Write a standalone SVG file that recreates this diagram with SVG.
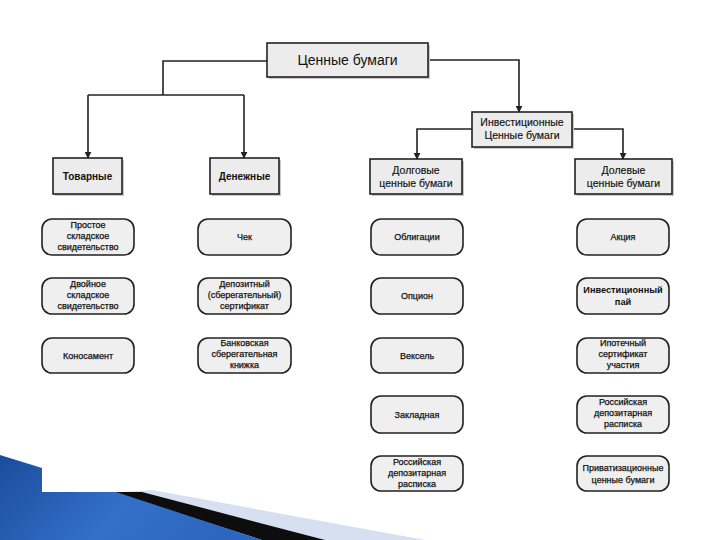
<svg xmlns="http://www.w3.org/2000/svg" width="720" height="540" viewBox="0 0 720 540">
<style>
.box{fill:#ececec;stroke:#222;stroke-width:1.6}
.sh{fill:#c8c8c8}
.rb{fill:#efefef;stroke:#222;stroke-width:1.6}
.t{font-family:"Liberation Sans",Arial,sans-serif;fill:#111;text-anchor:middle}
.s{font-size:9px;stroke:#111;stroke-width:0.25}
.h{font-size:10.5px;stroke:#111;stroke-width:0.15}
.b{font-weight:bold}
.ln{fill:none;stroke:#222;stroke-width:1.6}
</style>
<defs>
<marker id="ar" viewBox="0 0 10 10" refX="9" refY="5" markerWidth="7" markerHeight="7" markerUnits="userSpaceOnUse" orient="auto">
<path d="M0,0 L10,5 L0,10 z" fill="#222"/>
</marker>
<linearGradient id="bl" x1="0" y1="0" x2="1" y2="0.3">
<stop offset="0" stop-color="#1a4c9c"/>
<stop offset="0.6" stop-color="#3470c8"/>
<stop offset="1" stop-color="#2d66bf"/>
</linearGradient>
</defs>
<rect width="720" height="540" fill="#fff"/>
<g id="decor">
<polygon points="120,492 152,490 425,540 262,540" fill="#d6e0f0"/>
<polygon points="112,492 142,492 325,540 262,540" fill="#0d0d0d"/>
<polygon points="0,455 42,468 42,492 116,492 262,540 0,540" fill="url(#bl)"/>
</g>
<g id="connectors">
<polyline class="ln" points="267,61 163,61 163,95"/>
<polyline class="ln" points="88,95 244,95"/>
<line class="ln" x1="88" y1="95" x2="88" y2="158" marker-end="url(#ar)"/>
<line class="ln" x1="244" y1="95" x2="244" y2="158" marker-end="url(#ar)"/>
<polyline class="ln" points="428,60 519,60 519,112" marker-end="url(#ar)"/>
<polyline class="ln" points="472,129 417,129 417,159" marker-end="url(#ar)"/>
<polyline class="ln" points="572,129 623,129 623,159" marker-end="url(#ar)"/>
</g>
<g id="root">
<rect class="sh" x="269" y="45" width="161" height="34"/>
<rect class="box" x="267" y="43" width="161" height="34"/>
<text class="t" x="347.5" y="65" font-size="14">Ценные бумаги</text>
</g>
<g id="invest">
<rect class="sh" x="474" y="114" width="100" height="35"/>
<rect class="box" x="472" y="112" width="100" height="35"/>
<text class="t h" x="522" y="126" font-size="11">Инвестиционные</text>
<text class="t h" x="522" y="139" font-size="11">Ценные бумаги</text>
</g>
<g id="tovarnye">
<rect class="sh" x="55" y="160" width="69" height="36"/>
<rect class="box" x="53" y="158" width="69" height="36"/>
<text class="t b" x="87.5" y="180" font-size="10">Товарные</text>
</g>
<g id="denezhnye">
<rect class="sh" x="212" y="160" width="69" height="36"/>
<rect class="box" x="210" y="158" width="69" height="36"/>
<text class="t b" x="244.5" y="180" font-size="10">Денежные</text>
</g>
<g id="dolgovye">
<rect class="sh" x="372" y="161" width="92" height="35"/>
<rect class="box" x="370" y="159" width="92" height="35"/>
<text class="t h" x="416" y="174">Долговые</text>
<text class="t h" x="416" y="187">ценные бумаги</text>
</g>
<g id="dolevye">
<rect class="sh" x="577" y="161" width="97" height="35"/>
<rect class="box" x="575" y="159" width="97" height="35"/>
<text class="t h" x="623.5" y="174">Долевые</text>
<text class="t h" x="623.5" y="187">ценные бумаги</text>
</g>
<g id="prostoe">
<rect class="rb" x="42" y="219" width="92" height="36" rx="10"/>
<text class="t s" x="88" y="228">Простое</text>
<text class="t s" x="88" y="239">складское</text>
<text class="t s" x="88" y="250">свидетельство</text>
</g>
<g id="dvoinoe">
<rect class="rb" x="42" y="278" width="92" height="36" rx="10"/>
<text class="t s" x="88" y="287">Двойное</text>
<text class="t s" x="88" y="298">складское</text>
<text class="t s" x="88" y="309">свидетельство</text>
</g>
<g id="konosament">
<rect class="rb" x="42" y="338" width="92" height="35" rx="10"/>
<text class="t s" x="88" y="359">Коносамент</text>
</g>
<g id="chek">
<rect class="rb" x="198" y="219" width="93" height="36" rx="10"/>
<text class="t s" x="244.5" y="240">Чек</text>
</g>
<g id="depozitny">
<rect class="rb" x="198" y="278" width="93" height="36" rx="10"/>
<text class="t s" x="244.5" y="287">Депозитный</text>
<text class="t s" x="244.5" y="298">(сберегательный)</text>
<text class="t s" x="244.5" y="309">сертификат</text>
</g>
<g id="knizhka">
<rect class="rb" x="198" y="338" width="93" height="35" rx="10"/>
<text class="t s" x="244.5" y="346">Банковская</text>
<text class="t s" x="244.5" y="357">сберегательная</text>
<text class="t s" x="244.5" y="368">книжка</text>
</g>
<g id="obligacii">
<rect class="rb" x="371" y="219" width="92" height="36" rx="10"/>
<text class="t s" x="417" y="240">Облигации</text>
</g>
<g id="opcion">
<rect class="rb" x="371" y="278" width="92" height="36" rx="10"/>
<text class="t s" x="417" y="299">Опцион</text>
</g>
<g id="veksel">
<rect class="rb" x="371" y="338" width="92" height="35" rx="10"/>
<text class="t s" x="417" y="359">Вексель</text>
</g>
<g id="zakladnaya">
<rect class="rb" x="371" y="396" width="92" height="37" rx="10"/>
<text class="t s" x="417" y="418">Закладная</text>
</g>
<g id="rdr1">
<rect class="rb" x="371" y="456" width="92" height="35" rx="10"/>
<text class="t s" x="417" y="465">Российская</text>
<text class="t s" x="417" y="476">депозитарная</text>
<text class="t s" x="417" y="487">расписка</text>
</g>
<g id="akciya">
<rect class="rb" x="577" y="219" width="92" height="36" rx="10"/>
<text class="t s" x="623" y="240">Акция</text>
</g>
<g id="pai">
<rect class="rb" x="577" y="278" width="92" height="36" rx="10"/>
<text class="t b" x="623" y="293" font-size="9.2">Инвестиционный</text>
<text class="t b" x="623" y="305" font-size="9.2">пай</text>
</g>
<g id="ipoteka">
<rect class="rb" x="577" y="338" width="92" height="35" rx="10"/>
<text class="t s" x="623" y="346">Ипотечный</text>
<text class="t s" x="623" y="357">сертификат</text>
<text class="t s" x="623" y="368">участия</text>
</g>
<g id="rdr2">
<rect class="rb" x="577" y="396" width="92" height="37" rx="10"/>
<text class="t s" x="623" y="405">Российская</text>
<text class="t s" x="623" y="416">депозитарная</text>
<text class="t s" x="623" y="427">расписка</text>
</g>
<g id="privat">
<rect class="rb" x="577" y="456" width="92" height="35" rx="10"/>
<text class="t s" x="623" y="471">Приватизационные</text>
<text class="t s" x="623" y="483">ценные бумаги</text>
</g>
</svg>
